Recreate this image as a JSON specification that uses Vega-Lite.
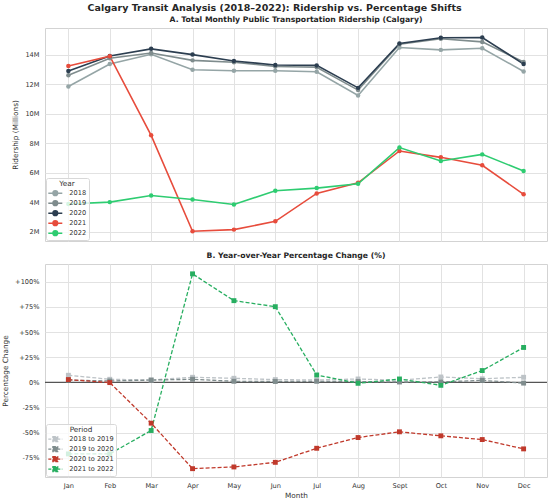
{
  "$schema": "https://vega.github.io/schema/vega-lite/v6.json",
  "background": "white",
  "padding": {"left": 1, "top": 3, "right": 4, "bottom": 2},
  "spacing": 9,
  "title": {"text": "Calgary Transit Analysis (2018–2022): Ridership vs. Percentage Shifts", "fontSize": 9.5, "font": "DejaVu Sans", "fontWeight": "bold", "color": "#262626", "anchor": "middle", "offset": 3},
  "config": {
    "font": "DejaVu Sans",
    "view": {"stroke": "#d3d3d3", "strokeWidth": 1},
    "axis": {"labelFont": "DejaVu Sans", "labelFontSize": 6.6, "labelColor": "#333333", "titleFont": "DejaVu Sans", "titleFontSize": 7.3, "titleFontWeight": "normal", "titleColor": "#333333", "gridColor": "#e2e2e2", "gridWidth": 1, "ticks": false, "domain": false, "labelPadding": 6},
    "legend": {"labelFont": "DejaVu Sans", "titleFont": "DejaVu Sans", "symbolSize": 64, "clipHeight": 9.7, "rowPadding": 0, "labelOffset": 9, "symbolOffset": 2.3, "padding": 2, "titlePadding": 1, "titleOrient": "top", "titleAnchor": "middle", "titleAlign": "center", "labelFontSize": 6.6, "labelColor": "#333333", "titleFontSize": 7.3, "titleFontWeight": "normal", "titleColor": "#333333", "fillColor": "rgba(255,255,255,0.8)", "strokeColor": "#d8d8d8", "cornerRadius": 2},
    "title": {"font": "DejaVu Sans"}
  },
  "datasets": {
    "ridership": [
      {"month": "Jan", "year": "2018", "ridership": 11.84}, {"month": "Feb", "year": "2018", "ridership": 13.36}, {"month": "Mar", "year": "2018", "ridership": 14.02}, {"month": "Apr", "year": "2018", "ridership": 12.98}, {"month": "May", "year": "2018", "ridership": 12.91}, {"month": "Jun", "year": "2018", "ridership": 12.91}, {"month": "Jul", "year": "2018", "ridership": 12.84}, {"month": "Aug", "year": "2018", "ridership": 11.23}, {"month": "Sept", "year": "2018", "ridership": 14.48}, {"month": "Oct", "year": "2018", "ridership": 14.32}, {"month": "Nov", "year": "2018", "ridership": 14.43}, {"month": "Dec", "year": "2018", "ridership": 12.86},
      {"month": "Jan", "year": "2019", "ridership": 12.61}, {"month": "Feb", "year": "2019", "ridership": 13.75}, {"month": "Mar", "year": "2019", "ridership": 14.11}, {"month": "Apr", "year": "2019", "ridership": 13.61}, {"month": "May", "year": "2019", "ridership": 13.48}, {"month": "Jun", "year": "2019", "ridership": 13.2}, {"month": "Jul", "year": "2019", "ridership": 13.14}, {"month": "Aug", "year": "2019", "ridership": 11.6}, {"month": "Sept", "year": "2019", "ridership": 14.7}, {"month": "Oct", "year": "2019", "ridership": 15.07}, {"month": "Nov", "year": "2019", "ridership": 14.86}, {"month": "Dec", "year": "2019", "ridership": 13.5},
      {"month": "Jan", "year": "2020", "ridership": 12.89}, {"month": "Feb", "year": "2020", "ridership": 13.91}, {"month": "Mar", "year": "2020", "ridership": 14.39}, {"month": "Apr", "year": "2020", "ridership": 14.0}, {"month": "May", "year": "2020", "ridership": 13.57}, {"month": "Jun", "year": "2020", "ridership": 13.3}, {"month": "Jul", "year": "2020", "ridership": 13.27}, {"month": "Aug", "year": "2020", "ridership": 11.75}, {"month": "Sept", "year": "2020", "ridership": 14.75}, {"month": "Oct", "year": "2020", "ridership": 15.14}, {"month": "Nov", "year": "2020", "ridership": 15.16}, {"month": "Dec", "year": "2020", "ridership": 13.36},
      {"month": "Jan", "year": "2021", "ridership": 13.23}, {"month": "Feb", "year": "2021", "ridership": 13.89}, {"month": "Mar", "year": "2021", "ridership": 8.54}, {"month": "Apr", "year": "2021", "ridership": 2.05}, {"month": "May", "year": "2021", "ridership": 2.16}, {"month": "Jun", "year": "2021", "ridership": 2.72}, {"month": "Jul", "year": "2021", "ridership": 4.61}, {"month": "Aug", "year": "2021", "ridership": 5.33}, {"month": "Sept", "year": "2021", "ridership": 7.48}, {"month": "Oct", "year": "2021", "ridership": 7.05}, {"month": "Nov", "year": "2021", "ridership": 6.51}, {"month": "Dec", "year": "2021", "ridership": 4.55},
      {"month": "Jan", "year": "2022", "ridership": 3.89}, {"month": "Feb", "year": "2022", "ridership": 4.02}, {"month": "Mar", "year": "2022", "ridership": 4.47}, {"month": "Apr", "year": "2022", "ridership": 4.2}, {"month": "May", "year": "2022", "ridership": 3.86}, {"month": "Jun", "year": "2022", "ridership": 4.79}, {"month": "Jul", "year": "2022", "ridership": 4.97}, {"month": "Aug", "year": "2022", "ridership": 5.26}, {"month": "Sept", "year": "2022", "ridership": 7.71}, {"month": "Oct", "year": "2022", "ridership": 6.8}, {"month": "Nov", "year": "2022", "ridership": 7.25}, {"month": "Dec", "year": "2022", "ridership": 6.13}
    ],
    "yoy": [
      {"month": "Jan", "period": "2018 to 2019", "pct": 7}, {"month": "Feb", "period": "2018 to 2019", "pct": 3}, {"month": "Mar", "period": "2018 to 2019", "pct": 2.3}, {"month": "Apr", "period": "2018 to 2019", "pct": 5}, {"month": "May", "period": "2018 to 2019", "pct": 4}, {"month": "Jun", "period": "2018 to 2019", "pct": 2.7}, {"month": "Jul", "period": "2018 to 2019", "pct": 2.3}, {"month": "Aug", "period": "2018 to 2019", "pct": 3.3}, {"month": "Sept", "period": "2018 to 2019", "pct": 2}, {"month": "Oct", "period": "2018 to 2019", "pct": 5.3}, {"month": "Nov", "period": "2018 to 2019", "pct": 3.5}, {"month": "Dec", "period": "2018 to 2019", "pct": 5},
      {"month": "Jan", "period": "2019 to 2020", "pct": 2.2}, {"month": "Feb", "period": "2019 to 2020", "pct": 1.3}, {"month": "Mar", "period": "2019 to 2020", "pct": 2.2}, {"month": "Apr", "period": "2019 to 2020", "pct": 3}, {"month": "May", "period": "2019 to 2020", "pct": 1}, {"month": "Jun", "period": "2019 to 2020", "pct": 0.8}, {"month": "Jul", "period": "2019 to 2020", "pct": 1}, {"month": "Aug", "period": "2019 to 2020", "pct": 0.8}, {"month": "Sept", "period": "2019 to 2020", "pct": 0.3}, {"month": "Oct", "period": "2019 to 2020", "pct": 0.4}, {"month": "Nov", "period": "2019 to 2020", "pct": 1.9}, {"month": "Dec", "period": "2019 to 2020", "pct": -0.8},
      {"month": "Jan", "period": "2020 to 2021", "pct": 2.7}, {"month": "Feb", "period": "2020 to 2021", "pct": -0.3}, {"month": "Mar", "period": "2020 to 2021", "pct": -40.7}, {"month": "Apr", "period": "2020 to 2021", "pct": -86}, {"month": "May", "period": "2020 to 2021", "pct": -84.3}, {"month": "Jun", "period": "2020 to 2021", "pct": -79.7}, {"month": "Jul", "period": "2020 to 2021", "pct": -65.7}, {"month": "Aug", "period": "2020 to 2021", "pct": -55}, {"month": "Sept", "period": "2020 to 2021", "pct": -49.3}, {"month": "Oct", "period": "2020 to 2021", "pct": -53.3}, {"month": "Nov", "period": "2020 to 2021", "pct": -57}, {"month": "Dec", "period": "2020 to 2021", "pct": -66.3},
      {"month": "Jan", "period": "2021 to 2022", "pct": -71.3}, {"month": "Feb", "period": "2021 to 2022", "pct": -71.3}, {"month": "Mar", "period": "2021 to 2022", "pct": -48}, {"month": "Apr", "period": "2021 to 2022", "pct": 108}, {"month": "May", "period": "2021 to 2022", "pct": 81.3}, {"month": "Jun", "period": "2021 to 2022", "pct": 75.3}, {"month": "Jul", "period": "2021 to 2022", "pct": 7.3}, {"month": "Aug", "period": "2021 to 2022", "pct": -1}, {"month": "Sept", "period": "2021 to 2022", "pct": 3.3}, {"month": "Oct", "period": "2021 to 2022", "pct": -3}, {"month": "Nov", "period": "2021 to 2022", "pct": 11.7}, {"month": "Dec", "period": "2021 to 2022", "pct": 34.7}
    ],
    "zero": [{"pct": 0}]
  },
  "resolve": {"scale": {"stroke": "independent", "fill": "independent"}, "legend": {"stroke": "independent", "fill": "independent"}},
  "vconcat": [
    {
      "width": 502,
      "height": 213,
      "title": {"text": "A. Total Monthly Public Transportation Ridership (Calgary)", "fontSize": 7.7, "fontWeight": "bold", "color": "#262626", "anchor": "middle", "frame": "group", "offset": 4},
      "data": {"name": "ridership"},
      "encoding": {
        "x": {"field": "month", "type": "ordinal", "scale": {"type": "point", "padding": 0.565, "domain": ["Jan", "Feb", "Mar", "Apr", "May", "Jun", "Jul", "Aug", "Sept", "Oct", "Nov", "Dec"]}, "axis": {"labels": false, "ticks": false, "domain": false, "title": null, "grid": true, "labelPadding": 0}},
        "y": {"field": "ridership", "type": "quantitative", "scale": {"domain": [1.39, 15.8], "nice": false, "zero": false}, "axis": {"values": [2, 4, 6, 8, 10, 12, 14], "labelExpr": "datum.value + 'M'", "title": "Ridership (Millions)", "titlePadding": 5, "grid": true}}
      },
      "layer": [
        {
          "mark": {"type": "line", "strokeWidth": 1.6},
          "encoding": {
            "stroke": {"field": "year", "type": "nominal", "scale": {"domain": ["2018", "2019", "2020", "2021", "2022"], "range": ["#95a5a6", "#7f8c8d", "#2c3e50", "#e74c3c", "#2ecc71"]},
              "legend": {"title": "Year", "orient": "bottom-left", "offset": 1, "titleOrient": "top", "titleAnchor": "middle", "titleAlign": "center", "symbolType": "M-1.75,0L1.75,0M-0.58,0A0.58,0.58,0,1,1,0.58,0A0.58,0.58,0,1,1,-0.58,0Z", "symbolSize": 64, "symbolStrokeWidth": 1.5, "clipHeight": 9.7, "rowPadding": 0, "labelOffset": 9, "symbolOffset": 2.3, "padding": 2}}
          }
        },
        {
          "mark": {"type": "point", "filled": true, "size": 20, "opacity": 1},
          "encoding": {
            "fill": {"field": "year", "type": "nominal", "scale": {"domain": ["2018", "2019", "2020", "2021", "2022"], "range": ["#95a5a6", "#7f8c8d", "#2c3e50", "#e74c3c", "#2ecc71"]},
              "legend": {"title": "Year", "orient": "bottom-left", "offset": 1, "titleOrient": "top", "titleAnchor": "middle", "titleAlign": "center", "symbolType": "M-1.75,0L1.75,0M-0.58,0A0.58,0.58,0,1,1,0.58,0A0.58,0.58,0,1,1,-0.58,0Z", "symbolSize": 64, "symbolStrokeWidth": 1.5, "clipHeight": 9.7, "rowPadding": 0, "labelOffset": 9, "symbolOffset": 2.3, "padding": 2}}
          }
        }
      ]
    },
    {
      "width": 502,
      "height": 213,
      "title": {"text": "B. Year-over-Year Percentage Change (%)", "fontSize": 7.7, "fontWeight": "bold", "color": "#262626", "anchor": "middle", "frame": "group", "offset": 4},
      "encoding": {
        "x": {"field": "month", "type": "ordinal", "scale": {"type": "point", "padding": 0.565, "domain": ["Jan", "Feb", "Mar", "Apr", "May", "Jun", "Jul", "Aug", "Sept", "Oct", "Nov", "Dec"]}, "axis": {"title": "Month", "labelAngle": 0, "grid": true, "labelPadding": 5, "titlePadding": 3}},
        "y": {"field": "pct", "type": "quantitative", "scale": {"domain": [-94.3, 117.8], "nice": false, "zero": false}, "axis": {"values": [-75, -50, -25, 0, 25, 50, 75, 100], "labelExpr": "(datum.value > 0 ? '+' : '') + datum.value + '%'", "title": "Percentage Change", "titlePadding": 5, "grid": true}}
      },
      "layer": [
        {
          "data": {"name": "zero"},
          "mark": {"type": "rule", "color": "#555555", "strokeWidth": 1.2},
          "encoding": {"x": null, "y": {"field": "pct", "type": "quantitative"}}
        },
        {
          "data": {"name": "yoy"},
          "mark": {"type": "line", "strokeWidth": 1.3, "strokeDash": [4, 2]},
          "encoding": {
            "stroke": {"field": "period", "type": "nominal", "scale": {"domain": ["2018 to 2019", "2019 to 2020", "2020 to 2021", "2021 to 2022"], "range": ["#bdc3c7", "#7f8c8d", "#c0392b", "#27ae60"]},
              "legend": {"title": "Period", "orient": "bottom-left", "offset": 1, "titleOrient": "top", "titleAnchor": "middle", "titleAlign": "center", "symbolType": "M-1.75,0L1.75,0M-0.6,-0.6L0.6,-0.6L0.6,0.6L-0.6,0.6Z", "symbolSize": 64, "symbolStrokeWidth": 1.3, "symbolDash": [3, 1.5], "clipHeight": 9.7, "rowPadding": 0, "labelOffset": 9, "symbolOffset": 2.3, "padding": 2}}
          }
        },
        {
          "data": {"name": "yoy"},
          "mark": {"type": "point", "shape": "square", "filled": true, "size": 24, "opacity": 1},
          "encoding": {
            "fill": {"field": "period", "type": "nominal", "scale": {"domain": ["2018 to 2019", "2019 to 2020", "2020 to 2021", "2021 to 2022"], "range": ["#bdc3c7", "#7f8c8d", "#c0392b", "#27ae60"]},
              "legend": {"title": "Period", "orient": "bottom-left", "offset": 1, "titleOrient": "top", "titleAnchor": "middle", "titleAlign": "center", "symbolType": "M-1.75,0L1.75,0M-0.6,-0.6L0.6,-0.6L0.6,0.6L-0.6,0.6Z", "symbolSize": 64, "symbolStrokeWidth": 1.3, "symbolDash": [3, 1.5], "clipHeight": 9.7, "rowPadding": 0, "labelOffset": 9, "symbolOffset": 2.3, "padding": 2}}
          }
        }
      ]
    }
  ]
}
